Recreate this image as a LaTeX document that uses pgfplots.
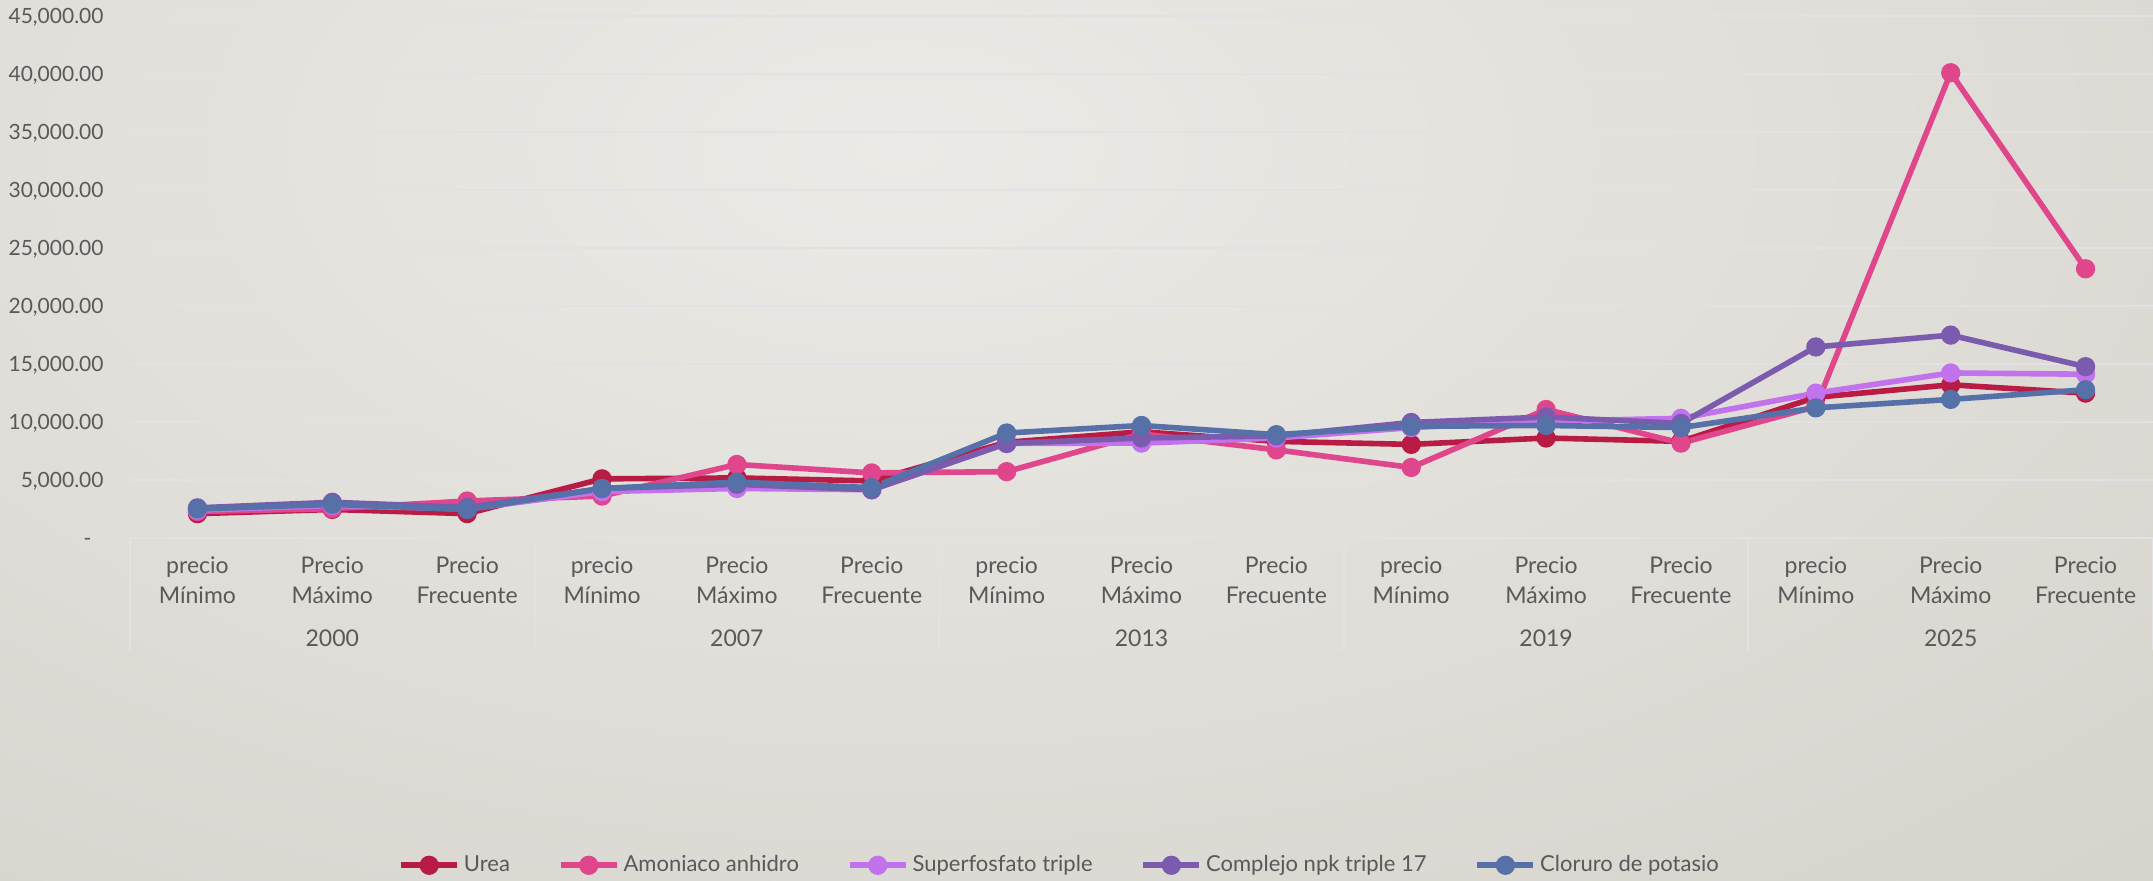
\documentclass[border=0pt]{standalone}
\usepackage{pgfplots}
\pgfplotsset{compat=1.18}
\usepackage{fontspec}
\setmainfont{Lato}
\definecolor{cUrea}{HTML}{B81C45}
\definecolor{cAmon}{HTML}{E0468C}
\definecolor{cSup}{HTML}{C172EC}
\definecolor{cComp}{HTML}{7B5BAE}
\definecolor{cClor}{HTML}{5670A8}
\definecolor{txt}{HTML}{595959}
\definecolor{bgin}{RGB}{236,234,230}
\definecolor{bgout}{RGB}{210,207,200}
\definecolor{gridc}{RGB}{226,226,229}
\begin{document}
\begin{tikzpicture}
\useasboundingbox (0,0) rectangle (1076.5pt,440pt);
\begin{scope}
\clip (0,0) rectangle (1076.5pt,440pt);
\shade[inner color=bgin, outer color=bgout] (-650pt,-235pt) rectangle (1550pt,965pt);
\end{scope}
\begin{axis}[
  at={(65pt,171pt)}, anchor=south west,
  width=1011.5pt, height=261pt, scale only axis,
  xmin=-0.5, xmax=14.5, ymin=0, ymax=45000,
  scaled y ticks=false,
  clip=false,
  axis line style={draw=none},
  ymajorgrids, grid style={gridc, line width=1pt},
  major tick length=0pt,
  ytick={0,5000,10000,15000,20000,25000,30000,35000,40000,45000},
  yticklabels={-\hphantom{0},{5,000.00},{10,000.00},{15,000.00},{20,000.00},{25,000.00},{30,000.00},{35,000.00},{40,000.00},{45,000.00}},
  yticklabel style={font=\fontsize{10.5}{12}\selectfont, text=txt, anchor=base east, xshift=-12pt, yshift=-3.8pt, inner sep=1pt},
  xtick={0,...,14},
  xticklabels={
    {precio\\Mínimo},{Precio\\Máximo},{Precio\\Frecuente},
    {precio\\Mínimo},{Precio\\Máximo},{Precio\\Frecuente},
    {precio\\Mínimo},{Precio\\Máximo},{Precio\\Frecuente},
    {precio\\Mínimo},{Precio\\Máximo},{Precio\\Frecuente},
    {precio\\Mínimo},{Precio\\Máximo},{Precio\\Frecuente}},
  xticklabel style={font=\fontsize{11.5}{15}\selectfont, text=txt, align=center, anchor=north, yshift=-6pt},
  every axis plot/.append style={line width=2.8pt, mark=*, mark size=3.4pt},
  legend style={at={(0.46,-0.627)}, anchor=center, draw=none, fill=none,
    font=\fontsize{11}{13}\selectfont, text=txt, legend columns=5,
    /tikz/every even column/.append style={column sep=22pt}},
  legend image code/.code={\draw[mark repeat=2,mark phase=2,#1] plot coordinates {(0pt,0pt) (14pt,0pt) (28pt,0pt)};},
]
\addplot[cUrea, mark options={fill=cUrea}] coordinates {(0,2100) (1,2460) (2,2100) (3,5100) (4,5180) (5,4920) (6,8250) (7,9160) (8,8330) (9,8070) (10,8620) (11,8330) (12,12130) (13,13210) (14,12490)};
\addlegendentry{Urea}
\addplot[cAmon, mark options={fill=cAmon}] coordinates {(0,2280) (1,2530) (2,3190) (3,3620) (4,6340) (5,5610) (6,5720) (7,8980) (8,7600) (9,6080) (10,11080) (11,8180) (12,11330) (13,40110) (14,23210)};
\addlegendentry{Amoniaco anhidro}
\addplot[cSup, mark options={fill=cSup}] coordinates {(0,2400) (1,2800) (2,2500) (3,4000) (4,4270) (5,4160) (6,8150) (7,8180) (8,8620) (9,9520) (10,10070) (11,10320) (12,12490) (13,14230) (14,14120)};
\addlegendentry{Superfosfato triple}
\addplot[cComp, mark options={fill=cComp}] coordinates {(0,2600) (1,3080) (2,2640) (3,4270) (4,4630) (5,4160) (6,8150) (7,8620) (8,8800) (9,9960) (10,10430) (11,9880) (12,16470) (13,17490) (14,14770)};
\addlegendentry{Complejo npk triple 17}
\addplot[cClor, mark options={fill=cClor}] coordinates {(0,2500) (1,2900) (2,2460) (3,4270) (4,4820) (5,4340) (6,9050) (7,9700) (8,8910) (9,9630) (10,9700) (11,9520) (12,11220) (13,11950) (14,12780)};
\addlegendentry{Cloruro de potasio}
\foreach \s in {-0.5,2.5,5.5,8.5,11.5,14.5} {
  \edef\tmp{\noexpand\draw[gridc, line width=1pt] (axis cs:\s,0) -- ([yshift=-56pt]axis cs:\s,0);}\tmp
}
\foreach \c/\y in {1/2000,4/2007,7/2013,10/2019,13/2025} {
  \edef\tmp{\noexpand\node[text=txt, font=\noexpand\fontsize{11.5}{13}\noexpand\selectfont] at (axis cs:\c,0) [yshift=-50pt] {\y};}\tmp
}
\end{axis}
\end{tikzpicture}
\end{document}
